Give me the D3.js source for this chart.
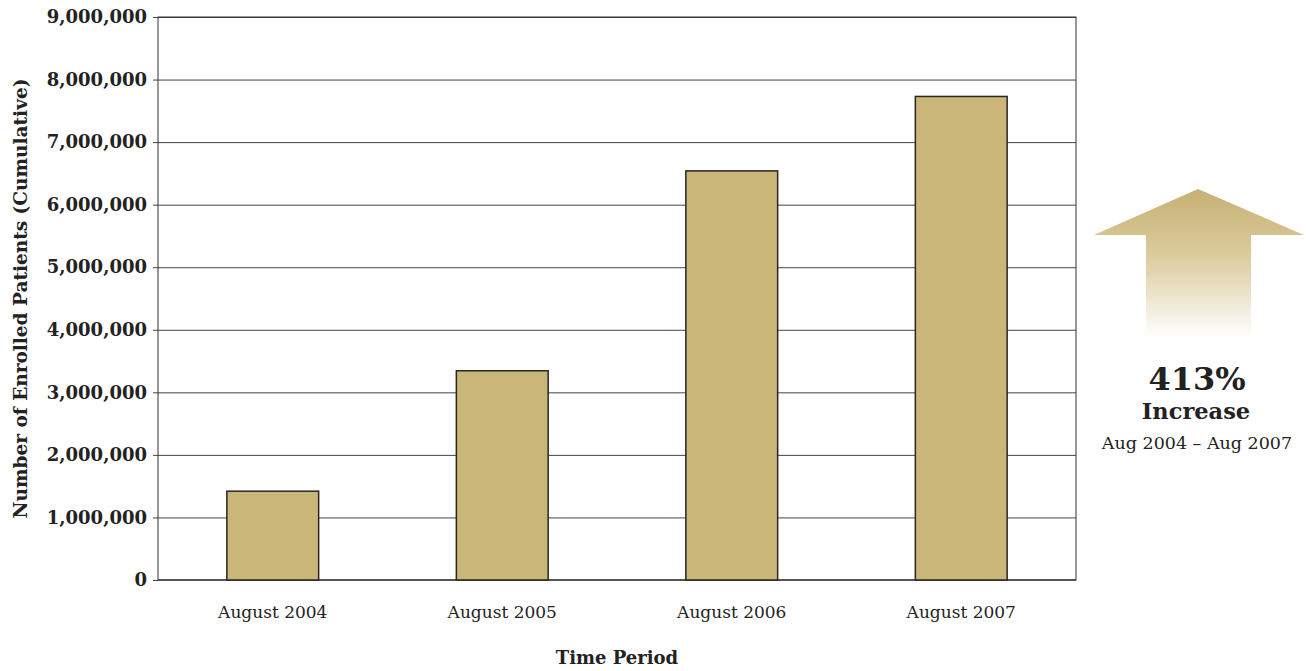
<!DOCTYPE html>
<html>
<head>
<meta charset="utf-8">
<script src="https://cdn.jsdelivr.net/npm/d3@7"></script>
<style>
  body { margin: 0; background: #fff; }
  text { font-family: 'DejaVu Serif', 'Liberation Serif', serif; fill: #222; }
</style>
</head>
<body>
<div id="chart"></div>
<script>
// data
const periods = ['August 2004', 'August 2005', 'August 2006', 'August 2007']
const patients = [1420000, 3345000, 6540000, 7730000]
const yTicks = [0, 1000000, 2000000, 3000000, 4000000, 5000000, 6000000, 7000000, 8000000, 9000000]
const calloutLines = ['413%', 'Increase', 'Aug 2004 \u2013 Aug 2007']

const W = 1306, H = 671
const margin = { top: 17, left: 158, right: 230, bottom: 91 }
const width = W - margin.left - margin.right
const height = H - margin.top - margin.bottom

const root = d3.select('#chart').append('svg')
  .attr('width', W).attr('height', H)

const svg = root.append('g')
  .attr('transform', 'translate(' + margin.left + ',' + margin.top + ')')

const x = d3.scaleBand()
  .domain(periods)
  .range([0, width])
  .paddingInner(0.6)
  .paddingOuter(0.3)

const y = d3.scaleLinear()
  .domain([0, 9000000])
  .range([height, 0])

// grid lines + tick labels
const yAxis = d3.axisLeft(y)
  .tickValues(yTicks)
  .tickSize(-width)
  .tickPadding(11)
  .tickFormat(d3.format(','))

const gy = svg.append('g').attr('class', 'y-axis').call(yAxis)
gy.select('.domain').remove()
gy.selectAll('.tick line')
  .attr('x1', -5)
  .attr('stroke', '#444')
  .attr('stroke-width', 1)
gy.selectAll('.tick text')
  .attr('font-size', '18px')
  .attr('font-weight', 'bold')
  .attr('fill', '#222')

// frame
svg.append('rect')
  .attr('x', 0).attr('y', 0)
  .attr('width', width).attr('height', height)
  .attr('fill', 'none')
  .attr('stroke', '#333')
  .attr('stroke-width', 1)

svg.append('line')
  .attr('x1', 0).attr('x2', width)
  .attr('y1', y(0)).attr('y2', y(0))
  .attr('stroke', '#555')
  .attr('stroke-width', 2)

// bars
svg.selectAll('.bar')
  .data(patients)
  .enter()
  .append('rect')
  .attr('class', 'bar')
  .attr('x', (d, i) => x(periods[i]))
  .attr('y', d => y(d))
  .attr('width', x.bandwidth())
  .attr('height', d => y(0) - y(d))
  .attr('fill', '#cab679')
  .attr('stroke', '#2a2620')
  .attr('stroke-width', 1.5)

// category labels
const xAxis = d3.axisBottom(x).tickSize(0).tickPadding(26)
const gx = svg.append('g')
  .attr('transform', 'translate(0,' + height + ')')
  .call(xAxis)
gx.select('.domain').remove()
gx.selectAll('.tick text')
  .attr('font-size', '17px')
  .attr('fill', '#222')

// axis titles
svg.append('text')
  .attr('x', width / 2)
  .attr('y', height + 84)
  .attr('text-anchor', 'middle')
  .attr('font-size', '18px')
  .attr('font-weight', 'bold')
  .text('Time Period')

svg.append('text')
  .attr('transform', 'translate(' + (-131) + ',' + (height / 2) + ') rotate(-90)')
  .attr('text-anchor', 'middle')
  .attr('font-size', '18.5px')
  .attr('font-weight', 'bold')
  .text('Number of Enrolled Patients (Cumulative)')

// up arrow callout
const defs = root.append('defs')
const grad = defs.append('linearGradient')
  .attr('id', 'arrowGrad')
  .attr('x1', 0).attr('y1', 0).attr('x2', 0).attr('y2', 1)
grad.append('stop').attr('offset', '0%').attr('stop-color', '#c6b174')
grad.append('stop').attr('offset', '45%').attr('stop-color', '#dccb9e')
grad.append('stop').attr('offset', '100%').attr('stop-color', '#ffffff')

const cx = 1198
const arrowPts = [
  [cx, 189], [1304, 235], [1251, 235], [1251, 338],
  [1146, 338], [1146, 235], [1094, 235]
]
root.append('path')
  .attr('d', d3.line()(arrowPts) + 'Z')
  .attr('fill', 'url(#arrowGrad)')

const callout = root.append('g')
callout.append('text')
  .attr('x', cx - 1).attr('y', 390)
  .attr('text-anchor', 'middle')
  .attr('font-size', '32px')
  .attr('font-weight', 'bold')
  .text(calloutLines[0])
callout.append('text')
  .attr('x', cx - 2).attr('y', 419)
  .attr('text-anchor', 'middle')
  .attr('font-size', '22.5px')
  .attr('font-weight', 'bold')
  .text(calloutLines[1])
callout.append('text')
  .attr('x', cx - 1).attr('y', 449)
  .attr('text-anchor', 'middle')
  .attr('font-size', '17.5px')
  .text(calloutLines[2])
</script>
</body>
</html>
